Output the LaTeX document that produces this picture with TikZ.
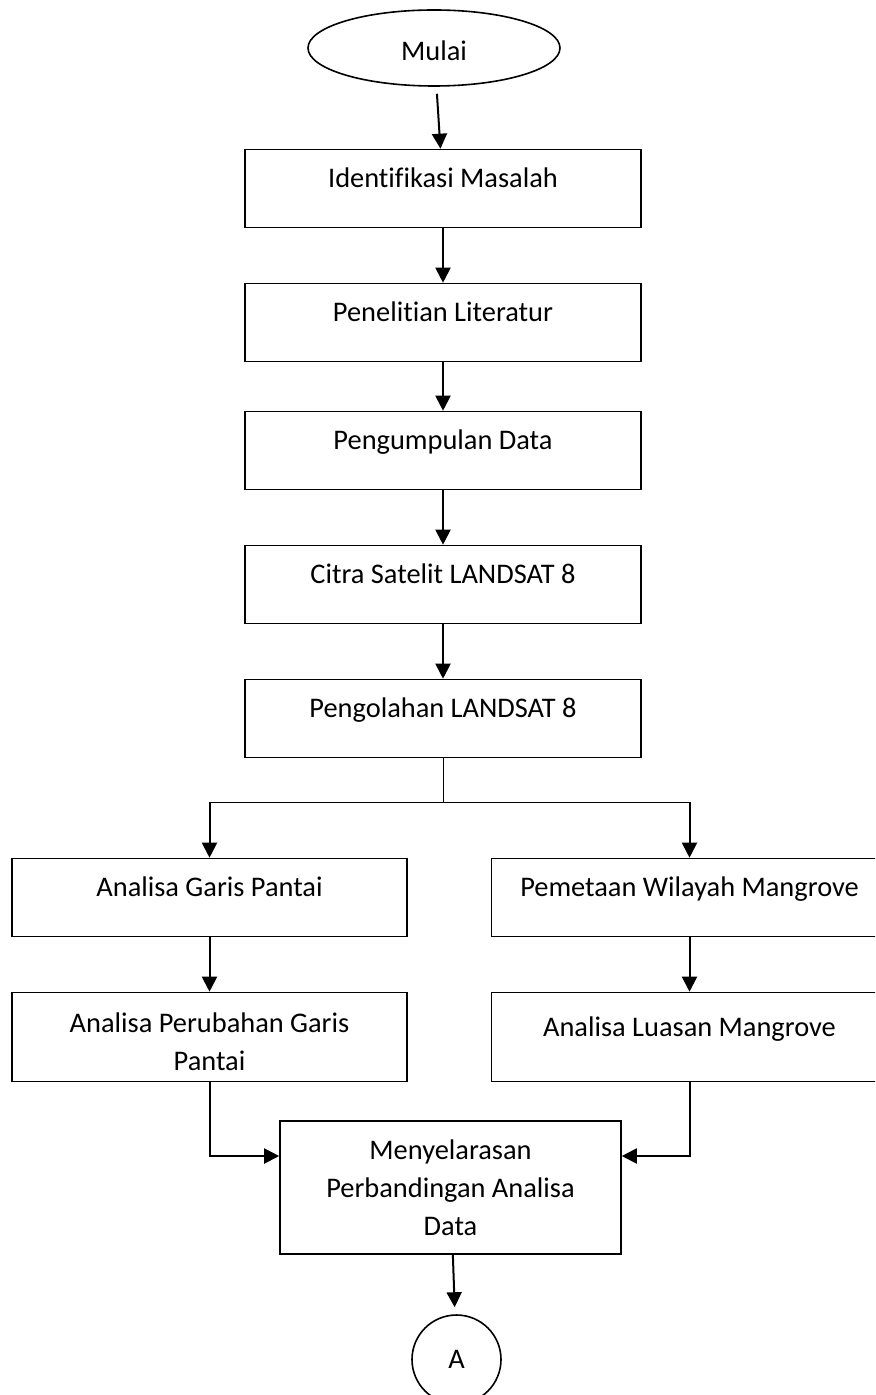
\documentclass[tikz,border=0pt]{standalone}
\usepackage{fontspec}
\setmainfont{Carlito}[Ligatures=NoCommon]
\usetikzlibrary{positioning, shapes.geometric, arrows.meta}

\begin{document}
\begin{tikzpicture}[x=0.5pt, y=-0.5pt, node distance=27.2pt, >={Triangle[length=7.5pt,width=7.5pt]}, font=\fontsize{14.2}{19}\selectfont]
      \tikzstyle{startstop} = [ellipse, draw=black, line width=0.8pt, minimum width=126pt, minimum height=38pt, inner sep=0pt, text height=13pt, text depth=0pt]
      \tikzstyle{process} = [rectangle, draw=black, line width=0.8pt, minimum width=198pt, inner ysep=0pt, text height=19pt, text depth=20pt]
      \tikzstyle{processtall} = [rectangle, draw=black, line width=0.8pt, minimum width=170.5pt, minimum height=66.5pt, align=center]
      \tikzstyle{connector} = [circle, draw=black, line width=0.8pt, minimum size=44.5pt, inner sep=0pt]
      \tikzstyle{arrow} = [line width=1pt, ->]
      \tikzstyle{line} = [line width=0.5pt]

      \clip (0,0) rectangle (875,1395);

      \node (mulai) [startstop] at (434,48) {Mulai};
      \node (identifikasi) [process] at (443,188.5) {Identifikasi Masalah};
      \node (literatur) [process, below=of identifikasi] {Penelitian Literatur};
      \node (pengumpulan) [process, below=24.2pt of literatur] {Pengumpulan Data};
      \node (citra) [process, below=of pengumpulan] {Citra Satelit LANDSAT 8};
      \node (pengolahan) [process, below=of citra] {Pengolahan LANDSAT 8};

      \draw [arrow, shorten <=3.5pt] (mulai) -- (identifikasi);
      \draw [arrow] (identifikasi) -- (literatur);
      \draw [arrow] (literatur) -- (pengumpulan);
      \draw [arrow] (pengumpulan) -- (citra);
      \draw [arrow] (citra) -- (pengolahan);

      \node (garis) [process, minimum width=197.5pt, below=49.7pt of pengolahan, xshift=-116.75pt] {Analisa Garis Pantai};
      \node (pemetaan) [process, below=49.7pt of pengolahan, xshift=123.25pt] {Pemetaan Wilayah Mangrove};
      \node (perubahan) [process, minimum width=197.5pt, below=of garis, align=center, text height=39pt, text depth=5.5pt] {Analisa Perubahan Garis\\Pantai};
      \node (luasan) [process, below=of pemetaan, text height=22pt, text depth=22.5pt] {Analisa Luasan Mangrove};

      % percabangan dari pengolahan
      \coordinate (cabang) at ([yshift=-22pt]pengolahan.south);
      \draw [line] (pengolahan.south) -- (cabang);
      \draw [line] (cabang -| garis) -- (cabang -| pemetaan);
      \draw [arrow] (cabang -| garis) -- (garis);
      \draw [arrow] (cabang -| pemetaan) -- (pemetaan);
      \draw [arrow] (garis) -- (perubahan);
      \draw [arrow] (pemetaan) -- (luasan);

      \node (menyelaras) [processtall] at (450.5,1187.5) {Menyelarasan\\Perbandingan Analisa\\Data};
      \node (A) [connector] at (456.5,1359.5) {A};

      \draw [arrow] (perubahan.south) |- ([yshift=15.75pt]menyelaras.west);
      \draw [arrow] (luasan.south) |- ([yshift=15.75pt]menyelaras.east);
      \draw [arrow, shorten >=3.5pt] (menyelaras) -- (A);

    \end{tikzpicture}
\end{document}
